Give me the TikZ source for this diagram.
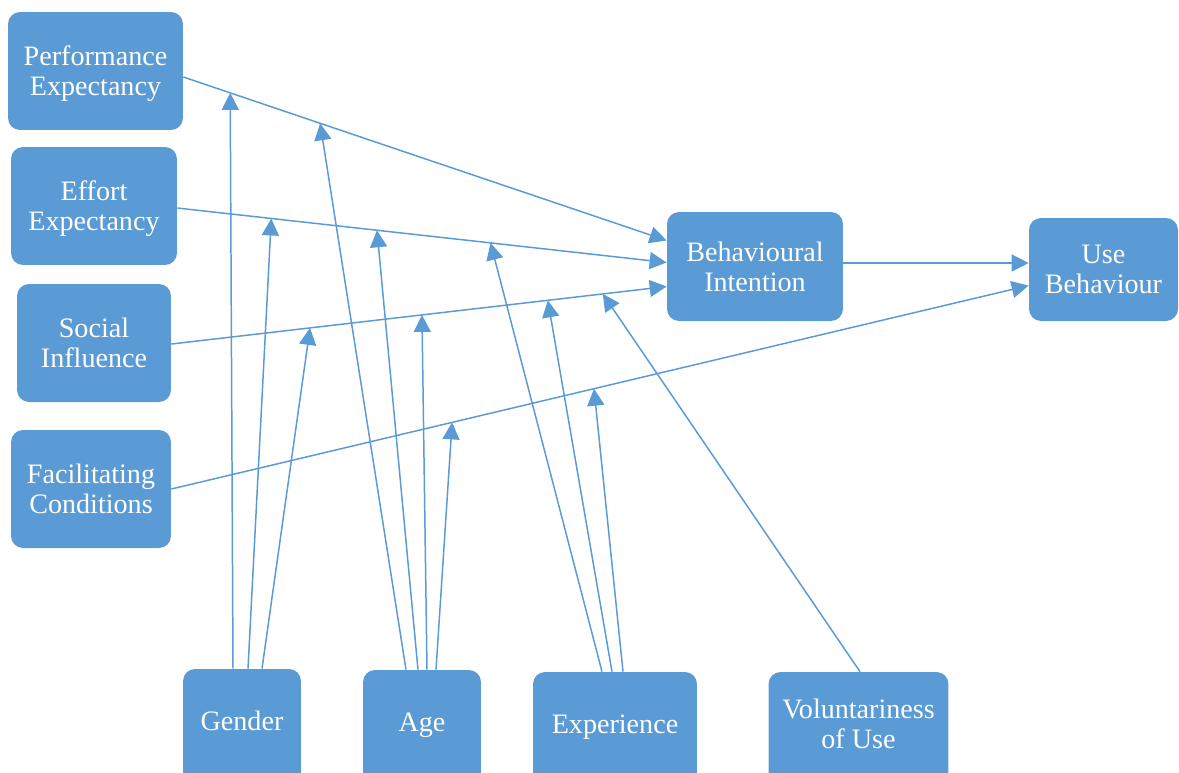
\documentclass[tikz,border=0pt]{standalone}
\usepackage{fontspec}
\setmainfont{Liberation Serif}
\usepackage{xcolor}
\usepackage{tikz}
\usetikzlibrary{calc,arrows.meta,positioning}
\definecolor{boxblue}{HTML}{5B9BD5}
\tikzset{
	factor/.style={draw=none,fill=boxblue,rounded corners=0.24cm,text=white,align=center,
		font=\fontsize{16}{17}\selectfont,inner sep=0pt,text depth=0pt},
	moderator/.style={factor,minimum height=2.6cm,text depth=0.52cm},
	link/.style={draw=boxblue,line width=0.85pt,-{Triangle[length=0.34cm,width=0.34cm]}},
}
\begin{document}
\begin{tikzpicture}[x=0.02cm,y=-0.02cm]
	\useasboundingbox (0,0) rectangle (1179,772);
	\node[factor,minimum width=3.5cm,minimum height=2.36cm] (pe) at (95.5,71) {Performance\\Expectancy};
	\node[factor,minimum width=3.32cm,minimum height=2.36cm] (ee) at (94,206) {Effort\\Expectancy};
	\node[factor,minimum width=3.08cm,minimum height=2.36cm] (si) at (94,343) {Social\\Influence};
	\node[factor,minimum width=3.2cm,minimum height=2.36cm] (fc) at (91,489) {Facilitating\\Conditions};
	\node[factor,minimum width=3.52cm,minimum height=2.18cm] (bi) at (755,266.5) {Behavioural\\Intention};
	\node[factor,minimum width=2.98cm,minimum height=2.06cm] (ub) at (1103.5,269.5) {Use\\Behaviour};
	\node[moderator,minimum width=2.36cm] (gender) at (242,734) {Gender};
	\node[moderator,minimum width=2.36cm] (age) at (422,735) {Age};
	\node[moderator,minimum width=3.28cm] (exp) at (615,737) {Experience};
	\node[moderator,minimum width=3.6cm] (vol) at (858.5,737) {Voluntariness\\of Use};
	\draw[link] ($(pe.east)+(0,6)$) -- coordinate[pos=0.097] (pe1) coordinate[pos=0.283] (pe2) ($(bi.west)+(0,-26)$);
	\draw[link] ($(ee.east)+(0,2)$) -- coordinate[pos=0.192] (ee1) coordinate[pos=0.408] (ee2) coordinate[pos=0.64] (ee3) ($(bi.west)+(0,-4)$);
	\draw[link] ($(si.east)+(0,1)$) -- coordinate[pos=0.28] (si1) coordinate[pos=0.506] (si2) coordinate[pos=0.76] (si3) coordinate[pos=0.871] (si4) ($(bi.west)+(0,20)$);
	\draw[link] ($(bi.east)+(0,-3.5)$) -- ($(ub.west)+(0,-6.5)$);
	\draw[link] (fc.east) -- coordinate[pos=0.3275] (fc1) coordinate[pos=0.493] (fc2) ($(ub.west)+(0,16)$);
	\draw[link] ($(gender.north)+(-9,0)$) -- (pe1);
	\draw[link] ($(gender.north)+(6,0)$) -- (ee1);
	\draw[link] ($(gender.north)+(20,0)$) -- (si1);
	\draw[link] ($(age.north)+(-16,0)$) -- (pe2);
	\draw[link] ($(age.north)+(-4,0)$) -- (ee2);
	\draw[link] ($(age.north)+(5,0)$) -- (si2);
	\draw[link] ($(age.north)+(14,0)$) -- (fc1);
	\draw[link] ($(exp.north)+(-13,0)$) -- (ee3);
	\draw[link] ($(exp.north)+(-3,0)$) -- (si3);
	\draw[link] ($(exp.north)+(8,0)$) -- (fc2);
	\draw[link] ($(vol.north)+(1.5,0)$) -- (si4);
\end{tikzpicture}
\end{document}
